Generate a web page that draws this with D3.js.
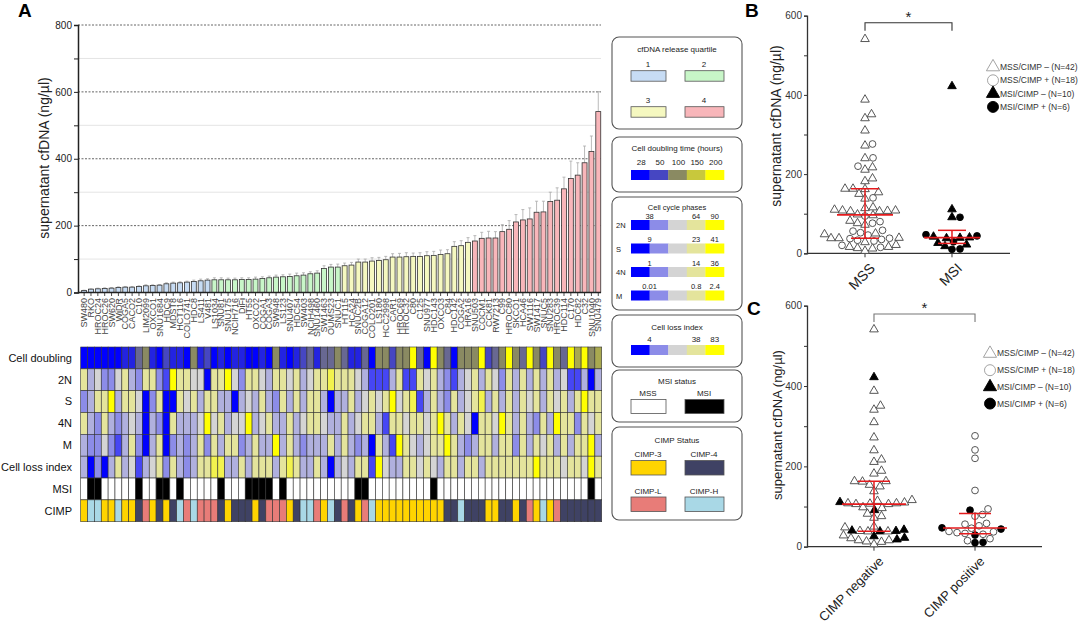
<!DOCTYPE html>
<html><head><meta charset="utf-8">
<script src="https://cdn.jsdelivr.net/npm/d3@7"></script>
<style>body{margin:0;background:#fff}svg{font-family:Arial,"Liberation Sans",sans-serif}</style>
</head><body>
<svg id="c" width="1080" height="625"></svg>
<script>
// ---------------- DATA ----------------
const cellLines = ["SW480","RKO","HROC24","HROC26","SW620","WiDR","COGA5","CACO2","C10","LIM2099","OXCO1","SNU1684","HDC9","MDST8","HCT116","COLO741","HDC8","LS411","V481",
"LS1034","SNU81","SNU175","NCIH716","DiFi","HT55","OXCO2","COGA1","COGA3","SW948","LS123","SNU407","HDC54","SW403","NCIH498","SNU1460","SW1463","OUMS23","SNUC1",
"HT115","HCA24","SNUC2B","COGA12","COLO201","LS180","HCC2998","CAR1","HROC69","HROC32","C80","C125","SNU977","HDC143","OXCO3","C84","HDC142","COGA2","HRA16",
"SNU503","COCM1","CCK81","RW7213","C99","HROC80","SKCO1","HCA46","SW1116","SW1417","SNUC5","SNU283","HROC39","HDC114","C170","HDC82","C32","SNU1040","SNU479"];
const cfdnaValues = [6,10,11,12,13,15,16,16,18,20,21,22,26,28,29,31,33,35,37,
38,38,38,38,39,39,40,42,44,46,47,48,50,52,56,58,72,76,76,
80,82,91,91,94,96,98,106,106,107,108,108,110,111,114,116,138,140,150,
154,162,163,163,182,189,211,217,220,240,241,272,276,310,341,351,388,422,541];
const cfdnaErrors = [1,1,2,2,2,2,2,2,2,3,2,2,3,3,3,3,4,5,4,
6,6,5,5,5,5,6,5,5,6,6,7,8,7,6,7,8,8,9,
8,8,9,9,10,9,10,10,11,12,10,11,12,12,13,12,14,15,14,
16,18,20,19,21,26,22,31,33,33,32,28,37,35,52,37,50,46,60];
const quartileLabels = ["1","2","3","4"];
// heatmap levels 0 (low, blue) .. 8 (high, yellow)
const doublingLevels = [0,0,0,0,0,0,1,1,3,4,1,0,2,1,1,0,4,1,2,0,1,0,1,1,0,0,1,0,4,1,0,1,2,3,1,
3,3,4,3,1,1,3,0,4,4,2,4,4,8,3,0,8,4,3,0,4,4,4,8,2,3,4,8,4,3,8,4,2,8,4,3,8,5,8,4,5];
const phase2N = [6,3,4,2,2,4,6,3,2,6,6,2,1,8,6,6,4,4,0,6,6,8,4,2,6,6,4,3,6,6,4,6,3,4,6,
6,7,6,6,6,4,3,1,1,1,3,6,1,1,6,4,6,3,2,1,3,4,6,3,6,4,2,6,3,6,3,6,3,6,3,4,1,1,3,0,3];
const phaseS = [2,3,6,6,8,3,6,6,4,0,2,6,0,0,6,4,6,3,6,6,3,3,0,3,4,3,6,3,2,6,3,6,3,6,6,
3,0,3,3,6,3,4,6,4,6,8,4,6,7,1,3,6,3,2,6,3,4,6,7,3,6,3,6,3,6,4,6,3,6,4,6,3,6,8,6,6];
const phase4N = [6,3,2,6,3,2,3,4,3,0,3,2,0,6,3,3,3,4,8,4,6,3,4,4,8,3,4,6,3,3,6,3,4,6,6,
4,3,3,6,3,4,6,6,3,1,6,6,4,6,6,4,6,8,6,3,6,4,0,6,6,4,8,6,3,6,3,2,6,3,8,6,6,2,6,4,6];
const phaseM = [3,2,2,4,2,1,3,6,2,0,3,6,0,2,3,2,3,6,2,6,3,6,6,2,3,6,3,3,8,3,6,3,2,3,3,
3,6,3,6,3,2,3,0,6,3,1,8,6,4,3,4,6,6,8,6,3,2,3,6,6,3,6,6,2,6,3,6,4,6,3,6,3,6,6,8,3];
const cellLoss = [3,0,2,0,3,6,3,4,1,3,4,6,2,6,3,2,3,6,6,7,7,3,3,6,3,6,6,6,3,6,7,6,3,3,6,
3,0,3,4,3,6,6,1,8,4,3,3,6,6,4,6,4,3,6,6,3,6,6,3,6,6,6,6,6,6,6,8,6,6,6,4,6,6,4,8,6];
const msiStatus = [0,1,1,0,0,0,0,0,1,0,0,1,1,0,1,0,0,0,0,0,1,0,0,0,1,1,1,1,0,1,0,0,0,0,0,
0,0,0,0,0,1,1,0,0,0,0,0,0,0,0,0,1,0,0,0,0,0,0,0,0,0,0,0,0,0,0,0,0,0,0,0,0,0,0,1,0];
const cimpStatus = ["3","H","H","3","3","H","3","3","4","L","3","4","3","4","H","L","H","L","L","L","4","3","4","4","4","3","4","L","L","L","3","4","H","H","L",
"3","H","4","L","4","3","L","H","3","3","3","3","3","3","3","3","3","3","4","4","H","4","4","4","3","3","4","4","3","4","L","3","H","3","L","4","4","4","4","4","4"];
const heatRowNames = ["Cell doubling","2N","S","4N","M","Cell loss index","MSI","CIMP"];
const yTicksA = [0,200,400,600,800];
const yTicksBC = [0,200,400,600];
const doublingTickLabels = ["28","50","100","150","200"];
const cycleTickLabels = {"2N":["38","64","90"],"S":["9","23","41"],"4N":["1","14","36"],"M":["0.01","0.8","2.4"]};
const lossTickLabels = ["4","38","83"];
const msiLabels = ["MSS","MSI"];
const cimpLabels = [["3","CIMP-3"],["4","CIMP-4"],["L","CIMP-L"],["H","CIMP-H"]];
const groupsB = ["MSS","MSI"];
const groupsC = ["CIMP negative","CIMP positive"];
const legendEntries = ["MSS/CIMP \u2013  (N=42)","MSS/CIMP + (N=18)","MSI/CIMP \u2013 (N=10)","MSI/CIMP + (N=6)"];

// ---------------- STYLE ----------------
const quartileColors = ["#c7dcf4","#c8f6c8","#f5f8c0","#f8b6ba"];
const cdColors = ["#0000ff","#4646c2","#8a8a62","#c8c83c","#ffff00"];
const cyColors = ["#0000ff","#8c8ce8","#d4d4d4","#e4e49c","#ffff00"];
const cimpColors = {"3":"#ffd400","4":"#3f4264","L":"#e87c78","H":"#a9d8e6"};

const svg = d3.select("#c");
const n = cellLines.length;

// ---------------- PANEL A: bars ----------------
const xA = d3.scaleBand().domain(d3.range(n)).range([80.7, 601.7]).paddingInner(0.28).paddingOuter(0.14);
const yA = d3.scaleLinear().domain([0,800]).range([292.5, 25]);
const qScale = d3.scaleQuantile().domain(cfdnaValues).range([0,1,2,3]);

svg.append("text").attr("x",18).attr("y",17).attr("font-size",19).attr("font-weight","bold").text("A");

const gridA = svg.append("g");
d3.range(100,801,100).forEach(v=>{
  const major = v%200===0;
  gridA.append("line").attr("x1",78).attr("x2",601).attr("y1",yA(v)).attr("y2",yA(v))
    .attr("stroke", major?"#555":"#ddd").attr("stroke-width", major?0.9:0.8)
    .attr("stroke-dasharray", major?"2,1.5":null);
});

const axA = d3.axisLeft(yA).tickValues(d3.range(0,801,100)).tickFormat(d=> yTicksA.includes(d)? d : "").tickSize(4).tickPadding(2);
const gA = svg.append("g").attr("transform","translate(78,0)").call(axA);
gA.select(".domain").attr("stroke","#222").attr("stroke-width",1.5);
gA.selectAll(".tick line").attr("stroke","#222");
gA.selectAll("text").attr("font-size",10).attr("fill","#222").attr("font-family","Arial,'Liberation Sans',sans-serif");

svg.append("text").attr("transform","translate(49,158) rotate(-90)").attr("text-anchor","middle")
  .attr("font-size",14).attr("fill","#222").text("supernatant cfDNA (ng/\u00b5l)");

const eb = svg.append("g").attr("stroke","#aaa").attr("stroke-width",0.8);
cfdnaValues.forEach((v,i)=>{
  const cx = xA(i)+xA.bandwidth()/2;
  eb.append("line").attr("x1",cx).attr("x2",cx).attr("y1",yA(v)).attr("y2",yA(v+cfdnaErrors[i]));
  eb.append("line").attr("x1",cx-1.5).attr("x2",cx+1.5).attr("y1",yA(v+cfdnaErrors[i])).attr("y2",yA(v+cfdnaErrors[i]));
});
svg.append("g").selectAll("rect").data(cfdnaValues).join("rect")
  .attr("x",(d,i)=>xA(i)).attr("width",xA.bandwidth())
  .attr("y",d=>yA(d)).attr("height",d=>yA(0)-yA(d))
  .attr("fill",d=>quartileColors[qScale(d)]).attr("stroke","#333").attr("stroke-width",0.8);

svg.append("line").attr("x1",78).attr("x2",601).attr("y1",yA(0)).attr("y2",yA(0)).attr("stroke","#222").attr("stroke-width",1.5);
const xt = svg.append("g");
cellLines.forEach((c,i)=>{
  const cx = xA(i)+xA.bandwidth()/2;
  xt.append("line").attr("x1",cx).attr("x2",cx).attr("y1",yA(0)).attr("y2",yA(0)+3.5).attr("stroke","#222").attr("stroke-width",0.8);
  xt.append("text").attr("transform",`translate(${cx},298) rotate(-90)`).attr("text-anchor","end").attr("dy","0.35em")
    .attr("font-size",9).attr("fill","#444").text(c);
});

// ---------------- PANEL A: heatmap ----------------
const xH = d3.scaleBand().domain(d3.range(n)).range([80.7, 601.7]);
const yH = d3.scaleBand().domain(heatRowNames).range([347, 521.7]);
const cdScale = d3.scaleLinear().domain([0,2,4,6,8]).range(cdColors);
const cyScale = d3.scaleLinear().domain([0,2,4,6,8]).range(cyColors);
const heatRows = [
  {name:"Cell doubling", data:doublingLevels, col:d=>cdScale(d)},
  {name:"2N", data:phase2N, col:d=>cyScale(d)},
  {name:"S", data:phaseS, col:d=>cyScale(d)},
  {name:"4N", data:phase4N, col:d=>cyScale(d)},
  {name:"M", data:phaseM, col:d=>cyScale(d)},
  {name:"Cell loss index", data:cellLoss, col:d=>cyScale(d)},
  {name:"MSI", data:msiStatus, col:d=>d?"#000":"#fff"},
  {name:"CIMP", data:cimpStatus, col:d=>cimpColors[d]}
];
const hm = svg.append("g");
heatRows.forEach(r=>{
  r.data.forEach((d,i)=>{
    hm.append("rect").attr("x",xH(i)).attr("y",yH(r.name)).attr("width",xH.bandwidth()).attr("height",yH.bandwidth())
      .attr("fill",r.col(d)).attr("stroke","#333").attr("stroke-width",0.6);
  });
  hm.append("text").attr("x",72).attr("y",yH(r.name)+yH.bandwidth()/2).attr("dy","0.35em").attr("text-anchor","end")
    .attr("font-size",11).attr("fill","#111").text(r.name);
});

// ---------------- PANEL A: legends ----------------
const lg = svg.append("g").attr("font-size",8).attr("fill","#222");
function box(y,h){ lg.append("rect").attr("x",612).attr("y",y).attr("width",130).attr("height",h).attr("rx",7)
  .attr("fill","none").attr("stroke","#555").attr("stroke-width",1.1); }
function txt(x,y,t,anchor="middle",fs=8){ lg.append("text").attr("x",x).attr("y",y).attr("text-anchor",anchor).attr("font-size",fs).text(t); }
function sw(x,y,w,h,f){ lg.append("rect").attr("x",x).attr("y",y).attr("width",w).attr("height",h).attr("fill",f).attr("stroke","#555").attr("stroke-width",0.8); }
const barX = d3.scaleBand().domain(d3.range(5)).range([631,724]);
function gradBar(y,colors){ colors.forEach((c,k)=>lg.append("rect").attr("x",barX(k)).attr("y",y).attr("width",barX.bandwidth()+0.3).attr("height",10).attr("fill",c)); }

box(37,92); txt(677,52,"cfDNA release quartile");
[[648,67,631,70.7,35],[704,67,685,70.7,39],[648,103,631,106.7,35],[704,103,685,106.7,39]].forEach((p,k)=>{
  txt(p[0],p[1],quartileLabels[k]); sw(p[2],p[3],p[4],10.5,quartileColors[k]);
});
box(137,55); txt(677,151,"Cell doubling time (hours)");
doublingTickLabels.forEach((t,k)=>txt(barX(k)+barX.bandwidth()/2+1,165,t));
gradBar(170,cdColors);
box(197,113); txt(677,209.5,"Cell cycle phases","middle",7.5);
const cyPos = [barX(1), barX(3)+barX.bandwidth()/2, barX(4)+barX.bandwidth()/2];
Object.keys(cycleTickLabels).forEach((ph,r)=>{
  const by = 220 + r*23.5;
  cycleTickLabels[ph].forEach((t,k)=>txt(cyPos[k],by-1.5,t,"middle",7.5));
  gradBar(by,cyColors);
  txt(616,by+8,ph,"start",7.5);
});
box(315,52); txt(677,330,"Cell loss index");
lossTickLabels.forEach((t,k)=>txt(cyPos[k],342,t));
gradBar(345,cyColors);
box(370,52); txt(677,384,"MSI status");
txt(648,396,msiLabels[0]); txt(704,396,msiLabels[1]);
sw(631,399.5,35,14,"#fff"); sw(685,399.5,39,14,"#000");
box(427,93); txt(677,443,"CIMP Status");
[[648,457,631,460.5,35],[704,457,685,460.5,39],[648,493.5,631,497,35],[704,493.5,685,497,39]].forEach((p,k)=>{
  txt(p[0],p[1],cimpLabels[k][1]); sw(p[2],p[3],p[4],14.5,cimpColors[cimpLabels[k][0]]);
});

// ---------------- PANELS B & C ----------------
const points = cellLines.map((c,i)=>({v:cfdnaValues[i], msi:msiStatus[i]===1, pos:(cimpStatus[i]==="H"||cimpStatus[i]==="L")}));

function swarm(pts, cx, D){
  const placed=[];
  pts.sort((a,b)=>b.py-a.py);
  pts.forEach(p=>{
    let best=null;
    for(let k=0;k<400 && best===null;k++){
      const cands = k===0?[0]:[k*0.5,-k*0.5];
      for(const off of cands){
        if(placed.every(q=>(q.px-(cx+off))**2+(q.py-p.py)**2>=D*D)){best=off;break;}
      }
    }
    p.px=cx+best; placed.push(p);
  });
}

function panel(opt){
  const g = svg.append("g");
  const y = d3.scaleLinear().domain([0,600]).range([opt.y0,opt.y600]);
  const x = d3.scalePoint().domain(opt.groups).range([807,opt.xEnd]).padding(opt.pad);
  g.append("text").attr("x",opt.lx).attr("y",opt.ly).attr("font-size",19).attr("font-weight","bold").text(opt.letter);
  const ax = g.append("g").attr("transform","translate(807,0)").call(d3.axisLeft(y).tickValues(d3.range(0,601,100)).tickFormat(d=>yTicksBC.includes(d)?d:"").tickSize(3).tickPadding(2));
  ax.select(".domain").attr("stroke","#333").attr("stroke-width",1.3);
  ax.selectAll(".tick line").attr("stroke","#333");
  ax.selectAll("text").attr("font-size",10).attr("fill","#333").attr("font-family","Arial,'Liberation Sans',sans-serif");
  g.append("line").attr("x1",807).attr("x2",opt.xEnd).attr("y1",y(0)).attr("y2",y(0)).attr("stroke","#333").attr("stroke-width",1.3);
  opt.groups.forEach(gr=>{
    g.append("line").attr("x1",x(gr)).attr("x2",x(gr)).attr("y1",y(0)).attr("y2",y(0)+4).attr("stroke","#333");
    g.append("text").attr("transform",`translate(${x(gr)+4},${y(0)+9}) rotate(-45)`).attr("text-anchor","end").attr("dy","0.7em")
      .attr("font-size",opt.xfs).attr("fill","#222").text(gr);
  });
  g.append("text").attr("transform",`translate(${opt.tx},${opt.ty}) rotate(-90)`).attr("text-anchor","middle")
    .attr("font-size",opt.tfs).attr("fill","#222").text(opt.title);
  const bx1=x(opt.groups[0]), bx2=x(opt.groups[1]);
  g.append("path").attr("d",`M${bx1},${opt.by+8}V${opt.by}H${bx2}V${opt.by+8}`).attr("fill","none").attr("stroke",opt.bc).attr("stroke-width",1.1);
  g.append("text").attr("x",(bx1+bx2)/2).attr("y",opt.by-1).attr("text-anchor","middle").attr("font-size",15).attr("fill","#222").text("*");
  opt.groups.forEach(gr=>{
    const pts = points.filter(p=>opt.groupOf(p)===gr).map(p=>({...p, py:y(p.v)}));
    swarm(pts, x(gr), 7.6);
    const vals = pts.map(p=>p.v).sort(d3.ascending);
    const q1=d3.quantile(vals,0.25), md=d3.quantile(vals,0.5), q3=d3.quantile(vals,0.75);
    pts.forEach(p=>{
      g.append("path").attr("transform",`translate(${p.px},${p.py})`)
        .attr("d",d3.symbol().type(p.pos?d3.symbolCircle:d3.symbolTriangle).size(p.pos?36:32)())
        .attr("fill",p.msi?"#000":"#fff").attr("stroke",p.msi?"#000":"#444").attr("stroke-width",0.9);
    });
    const cx=x(gr), red="#e41a1c";
    g.append("line").attr("x1",cx).attr("x2",cx).attr("y1",y(q1)).attr("y2",y(q3)).attr("stroke",red).attr("stroke-width",1.5);
    g.append("line").attr("x1",cx-opt.mw).attr("x2",cx+opt.mw).attr("y1",y(md)).attr("y2",y(md)).attr("stroke",red).attr("stroke-width",1.6);
    [q1,q3].forEach(q=>g.append("line").attr("x1",cx-opt.mw/2).attr("x2",cx+opt.mw/2).attr("y1",y(q)).attr("y2",y(q)).attr("stroke",red).attr("stroke-width",1.5));
  });
  legendEntries.forEach((t,k)=>{
    const ly = opt.legY + k*opt.legDy;
    const circ = k%2===1, filled = k>=2;
    g.append("path").attr("transform",`translate(${opt.legX},${ly})`)
      .attr("d",d3.symbol().type(circ?d3.symbolCircle:d3.symbolTriangle).size(circ?95:75)())
      .attr("fill",filled?"#000":"#fff").attr("stroke",filled?"#000":"#999").attr("stroke-width",0.9);
    g.append("text").attr("x",opt.legX+7).attr("y",ly).attr("dy","0.35em").attr("font-size",8.5).attr("fill","#333").text(t);
  });
}

panel({letter:"B",lx:745,ly:17,groups:groupsB,y0:253.3,y600:15.7,xEnd:1010,pad:0.667,xfs:14,
  title:"supernatant cfDNA (ng/\u00b5l)",tx:781,ty:126,tfs:14,by:22.7,bc:"#333",mw:28,
  groupOf:p=>p.msi?"MSI":"MSS",legX:993,legY:67,legDy:13.3});
panel({letter:"C",lx:747,ly:315,groups:groupsC,y0:546.7,y600:305.7,xEnd:1042,pad:0.663,xfs:13,
  title:"supernatant cfDNA  (ng/\u00b5l)",tx:782,ty:425,tfs:13,by:314,bc:"#777",mw:32,
  groupOf:p=>p.pos?"CIMP positive":"CIMP negative",legX:990,legY:353.5,legDy:16.7});
</script>
</body></html>
